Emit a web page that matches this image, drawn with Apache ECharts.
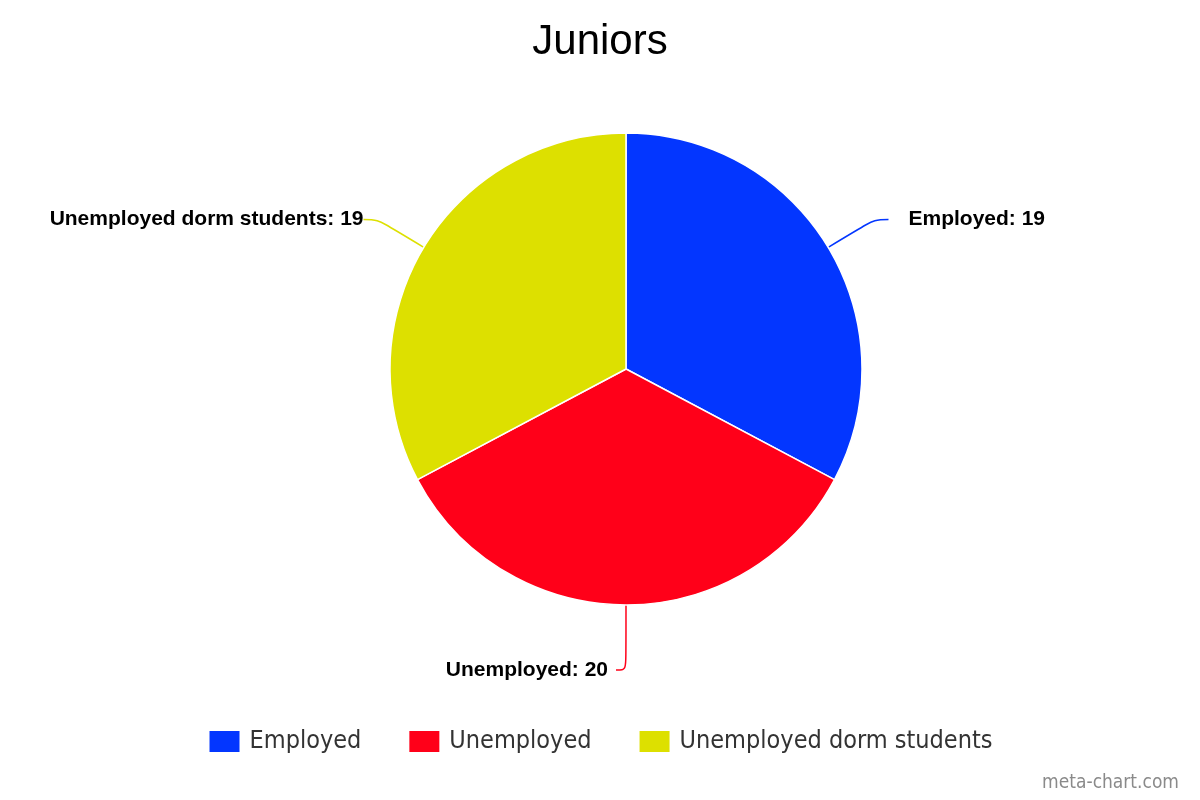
<!DOCTYPE html>
<html>
<head>
<meta charset="utf-8">
<script src="https://cdn.jsdelivr.net/npm/echarts@6/dist/echarts.min.js"></script>
<style>html,body{margin:0;padding:0;background:#fff}#c{width:1200px;height:800px}</style>
</head>
<body>
<div id="c"></div>
<script>
const titleText = 'Juniors';
const creditText = 'meta-chart.com';
const categories = ['Employed', 'Unemployed', 'Unemployed dorm students'];
const values = [19, 20, 19];
const colors = ['#0336ff', '#ff0019', '#dde000'];
// per-slice label line tuning (length, length2, distance)
const lineLen = [54, 65, 54];
const lineLen2 = [14, 10, 14];
const labelDist = [20, 8, 0];
// slices whose label is flipped to the left side (as in the reference)
const flipLeft = [false, true, false];

const chart = echarts.init(document.getElementById('c'));
chart.setOption({
  animation: false,
  color: colors,
  title: [{
    text: titleText,
    left: 'center',
    top: 16,
    textStyle: {fontFamily: 'Liberation Sans', fontSize: 42, fontWeight: 'normal', color: '#000'}
  }, {
    text: creditText,
    right: 16,
    bottom: 2,
    textStyle: {fontFamily: 'DejaVu Sans Condensed, DejaVu Sans', fontSize: 19, fontWeight: 'normal', color: '#8a8a8a'}
  }],
  legend: {
    bottom: 41,
    left: 'center',
    icon: 'rect',
    itemWidth: 32,
    itemHeight: 23,
    itemGap: 46,
    textStyle: {fontFamily: 'DejaVu Sans Condensed, DejaVu Sans', fontSize: 25, color: '#333', padding: [0, 0, 0, 4]},
    data: categories
  },
  series: [{
    type: 'pie',
    center: [626, 369],
    radius: 236,
    startAngle: 90,
    clockwise: true,
    avoidLabelOverlap: false,
    itemStyle: {borderColor: '#fff', borderWidth: 1.5},
    label: {
      show: true,
      formatter: '{b}: {c}',
      fontFamily: 'Liberation Sans',
      fontWeight: 'bold',
      fontSize: 21,
      color: '#000'
    },
    labelLine: {show: true, smooth: 0.35, lineStyle: {width: 1.5}},
    labelLayout: function (p) {
      if (!flipLeft[p.dataIndex] || !p.labelLinePoints) return {};
      const pts = p.labelLinePoints;
      const xEnd = 2 * pts[1][0] - pts[2][0];
      return {
        x: xEnd - labelDist[p.dataIndex],
        y: pts[2][1],
        align: 'right',
        verticalAlign: 'middle',
        labelLinePoints: [pts[0], pts[1], [xEnd, pts[2][1]]]
      };
    },
    emphasis: {disabled: true},
    data: categories.map((n, i) => ({
      name: n,
      value: values[i],
      label: {distanceToLabelLine: labelDist[i]},
      labelLine: {length: lineLen[i], length2: lineLen2[i]}
    }))
  }]
});
</script>
</body>
</html>
